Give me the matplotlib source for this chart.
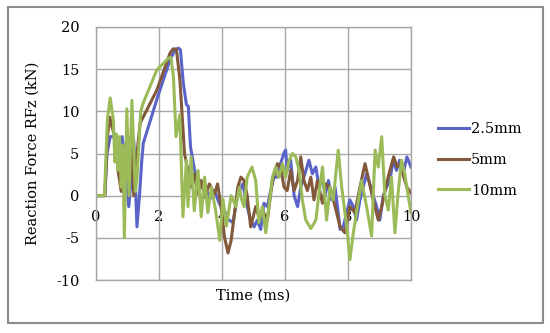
import matplotlib.pyplot as plt
from matplotlib.patches import Rectangle

# ---- data ----
series_labels = ["2.5mm", "5mm", "10mm"]

t_25 = [0, 0.28, 0.35, 0.45, 0.6, 0.7, 0.83, 0.95, 1.04, 1.12, 1.2, 1.3, 1.38, 1.45,
        1.5, 1.93, 2.35, 2.5, 2.62, 2.68, 2.77, 2.87, 2.93, 3.0, 3.13, 3.23, 3.34,
        3.45, 3.6, 3.76, 3.92, 4.08, 4.19, 4.35, 4.5, 4.66, 4.8, 4.91, 5.02, 5.12,
        5.23, 5.33, 5.44, 5.55, 5.65, 5.76, 5.86, 5.97, 6.02, 6.07, 6.18, 6.29, 6.4,
        6.5, 6.6, 6.76, 6.87, 6.98, 7.08, 7.19, 7.27, 7.38, 7.48, 7.59, 7.75, 7.85,
        7.96, 8.06, 8.17, 8.27, 8.38, 8.48, 8.59, 8.69, 8.8, 8.91, 9.01, 9.12, 9.22,
        9.33, 9.43, 9.54, 9.64, 9.75, 9.87, 10.0]
f_25 = [0, 0, 5, 7, 7, 4.3, 7, 3, -1.3, 2, 6.5, -3.7, 0, 4,
        6.2, 11.4, 16.1, 17.2, 17.5, 17.3, 13.4, 10.8, 10.6, 5.8, 3, 2.2, 1,
        1.4, -0.5, 0.6, -1, -1.8, -2.8, -3.2, 0.2, 1.4, -1.3, -2.9, -3.7, -2.9,
        -4, -0.9, -1.3, 0.7, 2.2, 2.2, 3.8, 5.1, 5.4, 3, 4.2, 0, -1.3,
        1, 2.2, 4.2, 2.6, 3.4, 1, 2.2, 0, 1.8, -0.5, 1, -4, -3.7,
        -2, -0.5, -1.3, -2.9, -0.5, 1, 2.6, 1.4, 0, -1.3, -2.9, 0, 1,
        1.8, 4.2, 3, 4.2, 2.6, 4.6, 3.4]

t_5 = [0, 0.28, 0.36, 0.44, 0.52, 0.6, 0.7, 0.8, 0.9, 1.0, 1.1, 1.2, 1.3, 1.4,
       1.93, 2.35, 2.45, 2.55, 2.66, 2.71, 2.81, 2.92, 3.02, 3.12, 3.23, 3.34, 3.45,
       3.6, 3.76, 3.86, 3.97, 4.08, 4.19, 4.29, 4.4, 4.5, 4.6, 4.7, 4.8, 4.91, 5.07,
       5.17, 5.28, 5.44, 5.6, 5.76, 5.86, 5.97, 6.07, 6.18, 6.29, 6.4, 6.5, 6.6,
       6.71, 6.82, 6.92, 7.03, 7.19, 7.3, 7.43, 7.59, 7.75, 7.9, 8.06, 8.22, 8.38,
       8.54, 8.64, 8.8, 8.96, 9.07, 9.22, 9.33, 9.45, 9.56, 9.66, 9.77, 9.87, 10.0]
f_5 = [0, 0, 7, 9.3, 8, 7, 3, 0.5, 6, 2, 7, 0, 5, 8.6,
       12.5, 16.9, 17.4, 17.4, 13.9, 11, 5, 3, 1, 2.6, 0.2, 1.8, -0.2,
       1.4, 0.2, 1.4, -1.3, -4.9, -6.8, -5.3, -2, 1, 2.2, 1.8, 0, -3.7, -1.3,
       -2.5, -1.7, -2.9, 1.8, 3.8, 3.4, 1, 0.6, 3, 0.6, 1.8, 4.6, 1.8,
       0.6, 2.2, -0.5, 1.8, -0.9, 1.4, 1, -1.3, -3.7, -4.4, -1.3, -2, 1,
       3.8, 2.2, -0.5, -2.9, -1.3, 1.4, 3, 4.6, 3.4, 3.8, 2.2, 1, 0.3]

t_10 = [0, 0.27, 0.36, 0.45, 0.55, 0.6, 0.65, 0.7, 0.75, 0.8, 0.85, 0.9, 0.98, 1.05,
        1.14, 1.25, 1.3, 1.42, 1.5, 1.93, 2.3, 2.38, 2.46, 2.54, 2.66, 2.76, 2.87,
        2.92, 3.02, 3.12, 3.24, 3.34, 3.45, 3.55, 3.66, 3.8, 3.93, 4.03, 4.14, 4.29,
        4.44, 4.55, 4.62, 4.7, 4.8, 4.95, 5.07, 5.17, 5.28, 5.39, 5.49, 5.6, 5.7,
        5.81, 5.92, 6.02, 6.13, 6.24, 6.34, 6.45, 6.55, 6.66, 6.82, 6.98, 7.08, 7.19,
        7.32, 7.43, 7.53, 7.69, 7.8, 7.96, 8.06, 8.17, 8.27, 8.43, 8.59, 8.75, 8.86,
        8.96, 9.07, 9.17, 9.28, 9.38, 9.49, 9.59, 9.7, 9.8, 9.91, 10.0]
f_10 = [0, 0, 9, 11.6, 9, 4, 7.3, 3, 7, 1, 6, -5, 10.3, 0,
        11.3, 0.5, 2, 10, 11, 14.9, 16.3, 16.4, 14, 7, 9.6, -2.5, 4.2,
        -1.3, 4.6, -1.8, 3, -2.5, 2.2, -2, 1, -1.8, -5.3, -0.4, -3.6, 0,
        -1.3, 1, -0.4, -1.3, 2.2, 3.4, 1.8, -3.2, -1.3, -4.4, -1.3, 2.2, 3.4,
        2.2, 3.8, 2.2, 4.2, 5, 4.6, 3, -0.5, -2.9, -3.9, -2.9, 0.3, 3.4,
        -2.9, 1, -0.5, 5.4, 1, -3.7, -7.6, -4.4, -2, 1.8, -1.3, -4.8, 5.4,
        3.4, 7, 0, -1.7, 2.2, -4.4, 0.3, 4.2, 2.6, 0, -2]

x_ticks = [0, 2, 4, 6, 8, 10]
y_ticks = [-10, -5, 0, 5, 10, 15, 20]

colors = ["#5a64c8", "#82593a", "#9bbb59"]

plt.rcParams["font.family"] = ["DejaVu Serif"]

fig = plt.figure(figsize=(5.5, 3.33), dpi=100)
ax = fig.add_axes([96 / 550, 1 - 280 / 333, 315 / 550, 253 / 333])

# outer frame around the whole chart
fig.patches.append(Rectangle((8 / 550, 1 - 323 / 333), 535 / 550, 316 / 333,
                             transform=fig.transFigure, fill=False,
                             edgecolor="#8c8c8c", linewidth=1.5))

for t, f, c, lab in zip([t_25, t_5, t_10], [f_25, f_5, f_10], colors, series_labels):
    assert len(t) == len(f), lab
    ax.plot(t, f, color=c, linewidth=2.2, label=lab)

ax.set_xlim(0, 10)
ax.set_ylim(-10, 20)
ax.set_yticks(y_ticks)
ax.set_yticklabels([str(v) for v in y_ticks])
ax.set_xticks(x_ticks)
ax.tick_params(axis="x", labelbottom=False, length=0)
ax.tick_params(axis="y", length=0, pad=12, labelsize=10.5)
ax.grid(True, color="#a6a6a6", linewidth=1.0)
ax.set_axisbelow(True)
for s in ax.spines.values():
    s.set_color("#a6a6a6")
    s.set_linewidth(1.0)

# x tick labels sit on the zero line, like Excel
sec = ax.secondary_xaxis(1 / 3)
sec.set_xticks(x_ticks)
sec.set_xticklabels([str(v) for v in x_ticks])
sec.tick_params(length=0, pad=10, labelsize=10.5)
sec.spines["bottom"].set_visible(False)

ax.set_xlabel("Time (ms)", fontsize=10.5, labelpad=6)
ax.set_ylabel("Reaction Force RFz (kN)", fontsize=10.5, labelpad=12)

ax.legend(loc="upper left", bbox_to_anchor=(438 / 550, 1 - 122 / 333),
          bbox_transform=fig.transFigure, frameon=False, fontsize=10.5,
          handlelength=2.1, handletextpad=0.15, labelspacing=1.15,
          borderaxespad=0, borderpad=0)

fig.savefig("out.png", dpi=100)
